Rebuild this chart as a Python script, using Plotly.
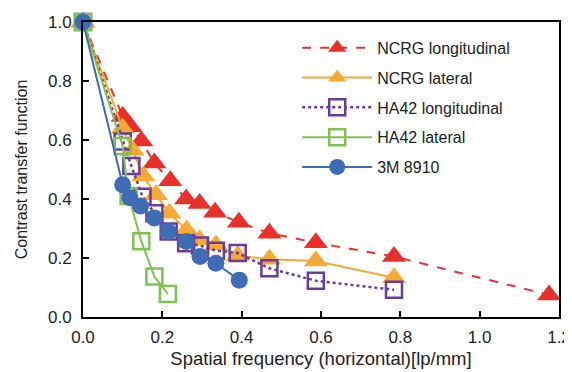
import plotly.graph_objects as go

# Data
ncrg_long_x = [0, 0.10, 0.12, 0.147, 0.18, 0.22, 0.26, 0.294, 0.333, 0.393, 0.47, 0.587, 0.784, 1.175]
ncrg_long_y = [1.0, 0.68, 0.645, 0.597, 0.522, 0.462, 0.40, 0.385, 0.355, 0.321, 0.284, 0.252, 0.205, 0.075]

ncrg_lat_x = [0, 0.10, 0.125, 0.152, 0.184, 0.218, 0.261, 0.294, 0.335, 0.39, 0.47, 0.587, 0.784]
ncrg_lat_y = [1.0, 0.64, 0.565, 0.478, 0.414, 0.352, 0.295, 0.261, 0.244, 0.208, 0.196, 0.19, 0.133]

ha42_long_x = [0, 0.10, 0.122, 0.15, 0.18, 0.216, 0.26, 0.295, 0.335, 0.39, 0.47, 0.587, 0.784]
ha42_long_y = [1.0, 0.595, 0.512, 0.408, 0.352, 0.29, 0.25, 0.242, 0.225, 0.217, 0.165, 0.123, 0.092]

ha42_lat_x = [0, 0.10, 0.115, 0.147, 0.18, 0.214]
ha42_lat_y = [1.0, 0.58, 0.41, 0.257, 0.137, 0.078]

m3_x = [0, 0.10, 0.118, 0.145, 0.18, 0.215, 0.26, 0.295, 0.335, 0.394]
m3_y = [1.0, 0.448, 0.404, 0.376, 0.336, 0.29, 0.256, 0.205, 0.182, 0.125]

x_ticks = [0.0, 0.2, 0.4, 0.6, 0.8, 1.0, 1.2]
y_ticks = [0.0, 0.2, 0.4, 0.6, 0.8, 1.0]

FONT = "Arial, 'Liberation Sans', Helvetica, sans-serif"

fig = go.Figure()

fig.add_trace(go.Scatter(
    x=ncrg_long_x, y=ncrg_long_y, name="NCRG longitudinal", mode="lines+markers",
    line=dict(color="#E8312B", width=2, dash="dash"),
    marker=dict(symbol="triangle-up", size=21, color="#E8312B"),
    cliponaxis=False, legendgroup="a"))
fig.add_trace(go.Scatter(
    x=ncrg_lat_x, y=ncrg_lat_y, name="NCRG lateral", mode="lines+markers",
    line=dict(color="#F5AA35", width=2),
    marker=dict(symbol="triangle-up", size=21, color="#F5AA35"),
    cliponaxis=False, legendgroup="b"))
fig.add_trace(go.Scatter(
    x=ha42_long_x, y=ha42_long_y, name="HA42 longitudinal", mode="lines+markers",
    line=dict(color="#6A3B9C", width=2.5, dash="dot"),
    marker=dict(symbol="square-open", size=16, color="#6A3B9C", line=dict(width=2.5)),
    cliponaxis=False, legendgroup="c"))
fig.add_trace(go.Scatter(
    x=ha42_lat_x, y=ha42_lat_y, name="HA42 lateral", mode="lines+markers",
    line=dict(color="#7DC353", width=2),
    marker=dict(symbol="square-open", size=16, color="#7DC353", line=dict(width=2.5)),
    cliponaxis=False, legendgroup="d"))
fig.add_trace(go.Scatter(
    x=m3_x, y=m3_y, name="3M 8910", mode="lines+markers",
    line=dict(color="#3F6DB5", width=2),
    marker=dict(symbol="circle", size=17, color="#3F6DB5"),
    cliponaxis=False, legendgroup="e"))

axis_common = dict(
    showgrid=False, zeroline=False, showline=True, linecolor="black", linewidth=2,
    mirror=True, ticks="inside", ticklen=6, tickwidth=1.5, tickcolor="black",
    tickfont=dict(family=FONT, size=17, color="#222"), tickformat=".1f",
    automargin=False, ticklabeloverflow="allow",
)

fig.update_xaxes(range=[0, 1.2], tickvals=x_ticks, ticklabelstandoff=4,
                 title=dict(text="Spatial frequency (horizontal)[lp/mm]",
                            font=dict(family=FONT, size=18.5, color="#222"), standoff=6),
                 **axis_common)
fig.update_yaxes(range=[0, 1.0], tickvals=y_ticks, ticklabelstandoff=6,
                 title=dict(text="Contrast transfer function",
                            font=dict(family=FONT, size=16, color="#222"), standoff=16),
                 **axis_common)

# The page body adds an 8 px offset, so the figure is 8 px smaller with margins reduced.
fig.update_layout(
    width=564, height=364,
    margin=dict(l=75, r=13, t=14, b=55, autoexpand=False),
    paper_bgcolor="white", plot_bgcolor="white",
    font=dict(family=FONT, size=16, color="#222"),
    legend=dict(x=0.45, y=0.97, xanchor="left", yanchor="top",
                bgcolor="rgba(0,0,0,0)", borderwidth=0,
                font=dict(family=FONT, size=16, color="#222"),
                tracegroupgap=6, traceorder="grouped", itemwidth=70),
    showlegend=True,
)

fig.write_html("out.html")
